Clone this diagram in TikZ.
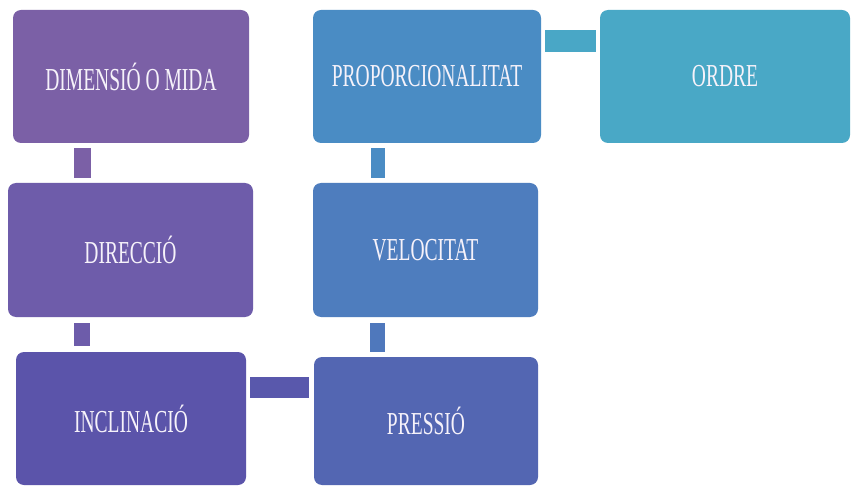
\documentclass[tikz,border=0pt]{standalone}
\usepackage{fontspec}
\setmainfont{Liberation Serif}
\usepackage{graphicx}
\newcommand\boxlbl[1]{\scalebox{0.61}[1]{#1}}
\definecolor{dimc}{RGB}{123,96,166}
\definecolor{dirc}{RGB}{110,92,170}
\definecolor{incc}{RGB}{91,84,170}
\definecolor{presc}{RGB}{83,102,178}
\definecolor{velc}{RGB}{78,125,190}
\definecolor{propc}{RGB}{74,140,196}
\definecolor{ordc}{RGB}{73,168,198}
\definecolor{txtc}{RGB}{246,242,250}
\tikzset{
  card/.style={rounded corners=8pt, inner sep=0pt, anchor=center,
    text=txtc, font=\fontsize{32}{38}\selectfont},
  conn/.style={draw, line cap=butt}
}
\begin{document}
\begin{tikzpicture}[x=1pt,y=-1pt]
\useasboundingbox[fill=white] (0,0) rectangle (851,486);
\node[card, fill=dimc, minimum width=236, minimum height=133] (dim) at (131,76.5) {\boxlbl{DIMENSIÓ O MIDA}};
\node[card, fill=dirc, minimum width=245, minimum height=134] (dir) at (130.5,250) {\boxlbl{DIRECCIÓ}};
\node[card, fill=incc, minimum width=230, minimum height=133] (inc) at (131,418.5) {\boxlbl{INCLINACIÓ}};
\node[card, fill=propc, minimum width=228, minimum height=133] (prop) at (427,76.5) {\boxlbl{PROPORCIONALITAT}};
\node[card, fill=velc, minimum width=225, minimum height=134] (vel) at (425.5,250) {\boxlbl{VELOCITAT}};
\node[card, fill=presc, minimum width=224, minimum height=128] (pres) at (426,421) {\boxlbl{PRESSIÓ}};
\node[card, fill=ordc, minimum width=250, minimum height=133] (ord) at (725,76.5) {\boxlbl{ORDRE}};
% connectors
\draw[conn, draw=dimc, line width=17pt, shorten <=5pt, shorten >=5pt] (82.5,0 |- dim.south) -- (82.5,0 |- dir.north);
\draw[conn, draw=dirc!95!incc, line width=16pt, shorten <=6pt, shorten >=6pt] (82,0 |- dir.south) -- (82,0 |- inc.north);
\draw[conn, draw=propc, line width=14pt, shorten <=5pt, shorten >=5pt] (378,0 |- prop.south) -- (378,0 |- vel.north);
\draw[conn, draw=velc!80!presc, line width=15pt, shorten <=6pt, shorten >=5pt] (377.5,0 |- vel.south) -- (377.5,0 |- pres.north);
\draw[conn, draw=incc!80!presc, line width=21pt, shorten <=4pt, shorten >=5pt] (0,387.5 -| inc.east) -- (0,387.5 -| pres.west);
\draw[conn, draw=ordc!95!propc, line width=22pt, shorten <=4pt, shorten >=4pt] (0,41 -| prop.east) -- (0,41 -| ord.west);
\end{tikzpicture}
\end{document}
